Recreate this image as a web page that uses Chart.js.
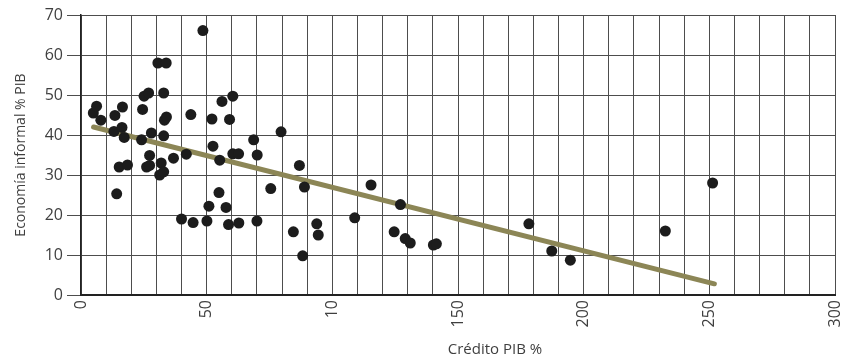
<!DOCTYPE html>
<html>
<head>
<meta charset="utf-8">
<script src="https://cdn.jsdelivr.net/npm/chart.js@4.4.0/dist/chart.umd.min.js"></script>
<style>
    html, body { margin: 0; padding: 0; background: #fff; }
    #wrap { width: 842px; height: 360px; }
</style>
</head>
<body>
<div id="wrap"><canvas id="informalChart" width="842" height="360"></canvas></div>
<script>
// Crédito PIB % (x) vs Economía informal % PIB (y), one entry per country
const creditX = [
    4.9, 6.2, 7.9, 13.5, 16.5, 13.1, 16.3, 17.2, 24.1, 24.5,
    25.1, 26.9, 28.0, 30.6, 33.9, 32.9, 33.2, 34.0, 32.9, 27.3,
    36.8, 41.9, 43.7, 48.5, 52.1, 52.5, 56.1, 55.2, 59.1, 60.4,
    60.4, 62.7, 68.7, 70.1, 79.6, 86.9, 14.2, 15.2, 18.5, 26.1,
    27.3, 31.9, 31.3, 32.9, 40.0, 44.6, 50.1, 50.9, 54.9, 57.7,
    58.7, 62.8, 70.0, 75.5, 84.5, 88.9, 88.2, 93.8, 94.4, 108.9,
    115.4, 127.1, 124.6, 129.0, 131.0, 140.2, 141.4, 178.2, 187.3, 194.7,
    232.5, 251.3
];
const informalY = [
    45.5, 47.2, 43.7, 44.9, 47.0, 40.9, 41.9, 39.4, 38.8, 46.4,
    49.7, 50.5, 40.5, 58.0, 58.0, 50.5, 43.7, 44.5, 39.8, 34.9,
    34.2, 35.2, 45.1, 66.1, 44.0, 37.2, 48.4, 33.7, 43.9, 49.7,
    35.3, 35.3, 38.8, 35.0, 40.8, 32.4, 25.3, 32.0, 32.5, 32.0,
    32.4, 33.0, 30.0, 30.8, 19.0, 18.1, 18.5, 22.2, 25.6, 21.9,
    17.6, 18.0, 18.5, 26.6, 15.8, 27.0, 9.8, 17.8, 15.0, 19.3,
    27.5, 22.6, 15.8, 14.1, 13.0, 12.5, 12.8, 17.8, 11.0, 8.7,
    16.0, 28.0
];

// Trend line end points as drawn
const trendX = [5, 252];
const trendY = [42, 2.8];

// Axis ticks (the original prints "10" under 100)
const xGridValues = [0, 10, 20, 30, 40, 50, 60, 70, 80, 90, 100, 110, 120, 130, 140, 150,
    160, 170, 180, 190, 200, 210, 220, 230, 240, 250, 260, 270, 280, 290, 300];
const xLabelValues = [0, 50, 100, 150, 200, 250, 300];
const xTickLabels = ['0', '50', '10', '150', '200', '250', '300'];
const yTickValues = [0, 10, 20, 30, 40, 50, 60, 70];

const xTitle = 'Crédito PIB %';
const yTitle = 'Economía informal % PIB';

const fontFamily = "'Open Sans', 'Noto Sans', sans-serif";
const textColor = '#3f3f3f';
const gridColor = '#4d4d4d';

// x title sits right of centre in the original
const xTitlePlugin = {
    id: 'xTitlePlugin',
    afterDraw: function(chart) {
        const ctx = chart.ctx;
        const area = chart.chartArea;
        ctx.save();
        ctx.font = '15px ' + fontFamily;
        ctx.fillStyle = textColor;
        ctx.textAlign = 'center';
        ctx.textBaseline = 'middle';
        ctx.fillText(xTitle, (area.left + area.right) / 2 + 37, 350);
        ctx.restore();
    }
};

const ctx = document.getElementById('informalChart');
new Chart(ctx, {
    type: 'scatter',
    data: {
        datasets: [
            {
                label: 'Países',
                data: creditX.map(function(x, i) { return { x: x, y: informalY[i] }; }),
                backgroundColor: '#1c1c1c',
                borderWidth: 0,
                pointRadius: 5.5,
                order: 1
            },
            {
                label: 'Tendencia',
                type: 'line',
                data: trendX.map(function(x, i) { return { x: x, y: trendY[i] }; }),
                borderColor: '#8c8656',
                borderWidth: 5,
                borderCapStyle: 'round',
                pointRadius: 0,
                fill: false,
                order: 2
            }
        ]
    },
    options: {
        responsive: false,
        animation: false,
        devicePixelRatio: 1,
        layout: {
            padding: { top: 15, right: 7, bottom: 0, left: 0 }
        },
        plugins: {
            legend: { display: false },
            tooltip: { enabled: false }
        },
        scales: {
            x: {
                type: 'linear',
                min: 0,
                max: 300,
                afterBuildTicks: function(scale) {
                    scale.ticks = xGridValues.map(function(v) { return { value: v }; });
                },
                afterFit: function(scale) {
                    scale.height = 65;
                    scale.paddingLeft = 0;
                    scale.paddingRight = 0;
                },
                ticks: {
                    autoSkip: false,
                    minRotation: 90,
                    maxRotation: 90,
                    padding: 5,
                    color: textColor,
                    font: { family: fontFamily, size: 16 },
                    callback: function(value) {
                        const idx = xLabelValues.indexOf(value);
                        return idx >= 0 ? xTickLabels[idx] : '';
                    }
                },
                grid: {
                    color: gridColor,
                    lineWidth: 1,
                    drawTicks: false
                },
                border: { color: '#222', width: 2 },
                title: { display: false }
            },
            y: {
                min: 0,
                max: 70,
                afterBuildTicks: function(scale) {
                    scale.ticks = yTickValues.map(function(v) { return { value: v }; });
                },
                afterFit: function(scale) {
                    scale.width = 81;
                },
                ticks: {
                    padding: 4,
                    color: textColor,
                    font: { family: fontFamily, size: 16 }
                },
                grid: {
                    color: gridColor,
                    lineWidth: 1,
                    tickLength: 14
                },
                border: { color: '#222', width: 1.5 },
                title: {
                    display: true,
                    text: yTitle,
                    color: textColor,
                    font: { family: fontFamily, size: 14 },
                    padding: { top: 13, bottom: 0 }
                }
            }
        }
    },
    plugins: [xTitlePlugin]
});
</script>
</body>
</html>
